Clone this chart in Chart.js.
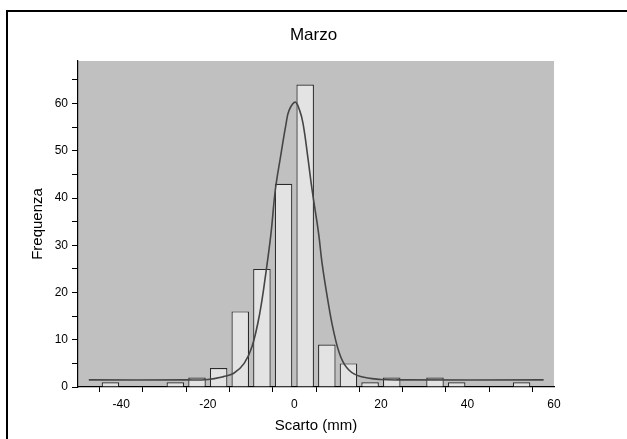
<!DOCTYPE html>
<html>
<head>
<meta charset="utf-8">
<script src="https://cdn.jsdelivr.net/npm/chart.js@4"></script>
<style>
  html, body { margin: 0; padding: 0; background: #fff; }
  #wrap { width: 627px; height: 439px; }
</style>
</head>
<body>
<div id="wrap"><canvas id="c"></canvas></div>
<script>
// histogram bins (centre of each 5 mm bin) and counts
const binCentres = [-42.5, -27.5, -22.5, -17.5, -12.5, -7.5, -2.5, 2.5, 7.5, 12.5, 17.5, 22.5, 32.5, 37.5, 52.5];
const counts     = [1, 1, 2, 4, 16, 25, 43, 64, 9, 5, 1, 2, 2, 1, 1];

// fitted curve, points
const curveX = [-47.5, -25, -20, -16.4, -14, -11.6, -9.8, -8, -6.5, -5.4, -4.4, -3.2, -1.9, -1.2, 0.2,
                1.2, 2.0, 3.1, 4.1, 5.6, 6.4, 7.6, 9.0, 10.7, 12.6, 15.3, 20, 25, 57.6];
const curveY = [1.5, 1.5, 1.6, 2.2, 2.9, 5.0, 8.5, 15.6, 24.7, 32.5, 41.7, 48.7, 55.8, 58.6, 60.3,
                58.6, 55.8, 48.7, 41.7, 32.5, 26.2, 19.1, 12.1, 6.4, 3.6, 2.2, 1.6, 1.5, 1.5];

const xLabels = [-40, -20, 0, 20, 40, 60];
const yLabels = [0, 10, 20, 30, 40, 50, 60];

const FONT = "'Liberation Sans', Arial, sans-serif";

// grey plot background + outer frame
const backdrop = {
  id: 'backdrop',
  beforeDraw(chart) {
    const { ctx, chartArea: a } = chart;
    ctx.save();
    ctx.fillStyle = '#c0c0c0';
    ctx.fillRect(a.left, a.top, a.right - a.left, a.bottom - a.top);
    ctx.strokeStyle = '#000';
    ctx.lineWidth = 2;
    ctx.beginPath();
    ctx.moveTo(7, 439);
    ctx.lineTo(7, 11);
    ctx.lineTo(627, 11);
    ctx.stroke();
    ctx.restore();
  }
};

new Chart(document.getElementById('c'), {
  data: {
    datasets: [
      {
        type: 'line',
        data: curveX.map((x, i) => ({ x: x, y: curveY[i] })),
        borderColor: '#454545',
        borderWidth: 1.6,
        pointRadius: 0,
        tension: 0.4,
        fill: false,
        order: 0
      },
      {
        type: 'bar',
        data: binCentres.map((x, i) => ({ x: x, y: counts[i] })),
        backgroundColor: '#e3e3e3',
        borderColor: '#2a2a2a',
        borderWidth: 1.2,
        barPercentage: 0.9,
        categoryPercentage: 0.9,
        order: 1
      }
    ]
  },
  options: {
    responsive: true,
    maintainAspectRatio: false,
    animation: false,
    layout: { padding: 0 },
    plugins: {
      legend: { display: false },
      tooltip: { enabled: false },
      title: {
        display: true,
        text: 'Marzo',
        color: '#000',
        font: { family: FONT, size: 17, weight: 'normal' },
        padding: { top: 25, bottom: 15.6 }
      }
    },
    scales: {
      x: {
        type: 'linear',
        min: -50,
        max: 60,
        offset: false,
        afterFit: s => { s.height = 52; },
        grid: { drawOnChartArea: false, drawTicks: true, tickLength: 5, tickColor: '#000' },
        border: { display: true, color: '#000', width: 1.2 },
        ticks: {
          stepSize: 10,
          padding: 5,
          color: '#000',
          maxRotation: 0,
          autoSkip: false,
          font: { family: FONT, size: 12 },
          callback: v => xLabels.includes(v) ? String(v) : ''
        },
        title: {
          display: true,
          text: 'Scarto (mm)',
          color: '#000',
          font: { family: FONT, size: 15 },
          padding: { top: 0, bottom: 4 }
        }
      },
      y: {
        type: 'linear',
        min: 0,
        max: 69,
        afterFit: s => { s.width = 78; },
        grid: { drawOnChartArea: false, drawTicks: true, tickLength: 6, tickColor: '#000' },
        border: { display: true, color: '#000', width: 1.2 },
        ticks: {
          stepSize: 5,
          padding: 4,
          color: '#000',
          autoSkip: false,
          font: { family: FONT, size: 12 },
          callback: v => (v % 5 !== 0) ? null : (yLabels.includes(v) ? String(v) : '')
        },
        title: {
          display: true,
          text: 'Frequenza',
          color: '#000',
          font: { family: FONT, size: 15 },
          padding: { top: 29, bottom: 0 }
        }
      },
      // empty right-hand box that reserves the margin beside the plot
      yRight: {
        type: 'linear',
        position: 'right',
        display: true,
        afterFit: s => { s.width = 73; },
        grid: { display: false },
        border: { display: false },
        ticks: { display: false }
      }
    }
  },
  plugins: [backdrop]
});
</script>
</body>
</html>
